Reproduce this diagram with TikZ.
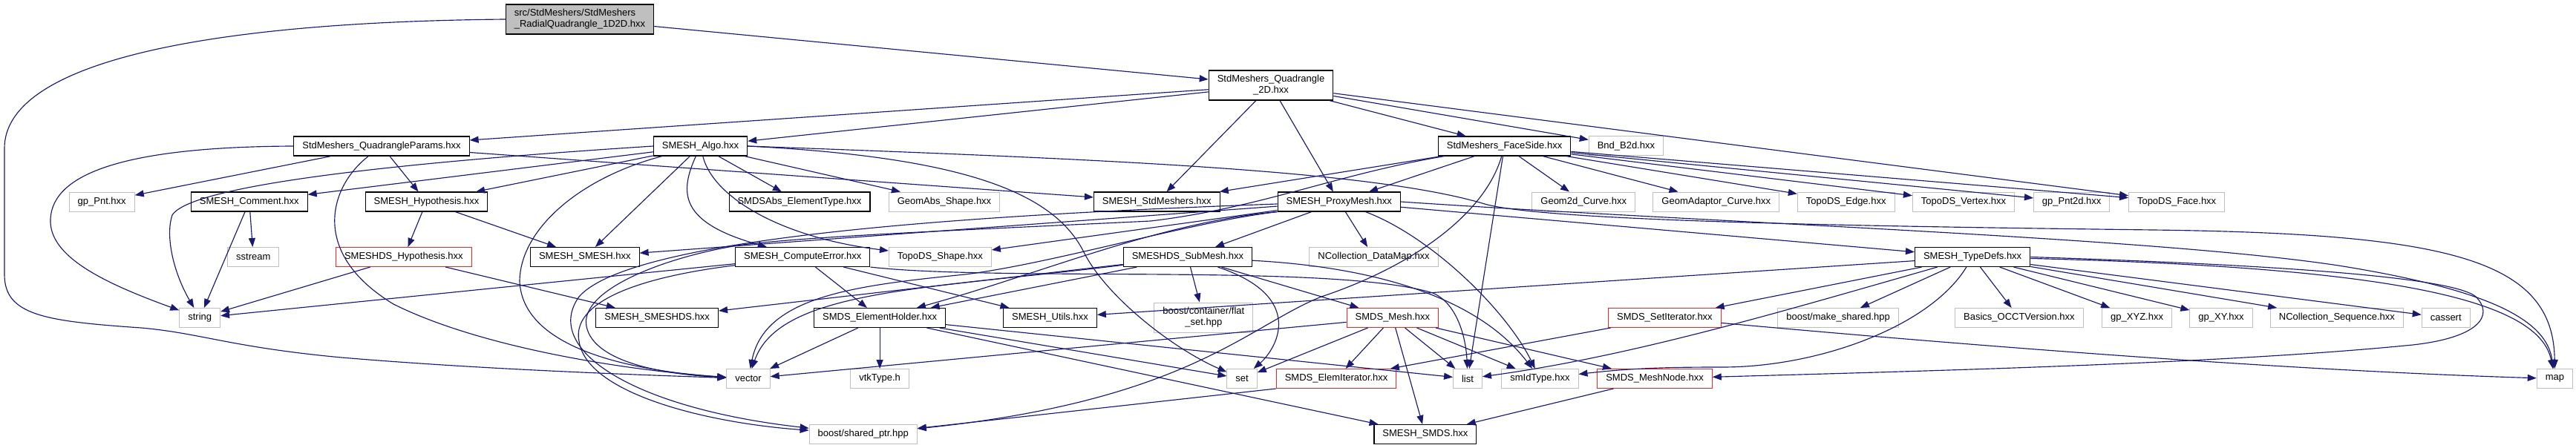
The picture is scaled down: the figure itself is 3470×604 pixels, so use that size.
\documentclass[tikz,border=0pt]{standalone}
\usepackage{fontspec}
\setmainfont{Liberation Sans}
\usepackage{tikz}
\usetikzlibrary{arrows.meta}
\definecolor{edgeblue}{HTML}{191970}
\definecolor{sysgray}{HTML}{BFBFBF}
\definecolor{truncred}{HTML}{FF2020}
\tikzstyle{filebox} = [draw=black, line width=1.1pt, fill=white, rectangle,
    inner xsep=11.5pt, inner ysep=0pt, minimum height=26pt,
    font=\fontsize{13}{15}\selectfont]
\tikzstyle{sysbox} = [filebox, draw=sysgray, line width=1pt]
\tikzstyle{truncbox} = [filebox, draw=truncred, line width=1pt]
\tikzstyle{rootbox} = [filebox, fill=sysgray, minimum height=40pt, align=left]
\tikzstyle{inc} = [draw=edgeblue, line width=1.15pt, -{Triangle[length=12pt,width=9pt]}]

\begin{document}
\begin{tikzpicture}[x=1pt,y=-1pt]
	\useasboundingbox (0,0) rectangle (3470,604);

	% row 0 and 1
	\node [rootbox] at (781,26) (root) {src/StdMeshers/StdMeshers\\\_RadialQuadrangle\_1D2D.hxx};
	\node [filebox, align=center, minimum height=40pt] at (1712,115) (quad2d) {StdMeshers\_Quadrangle\\\_2D.hxx};

	% row 2
	\node [filebox] at (514,197) (qparams) {StdMeshers\_QuadrangleParams.hxx};
	\node [filebox] at (943.5,197) (algo) {SMESH\_Algo.hxx};
	\node [filebox] at (2026.6,197) (faceside) {StdMeshers\_FaceSide.hxx};
	\node [sysbox] at (2190.4,197) (bnd) {Bnd\_B2d.hxx};

	% row 3
	\node [sysbox] at (137.2,272) (gppnt) {gp\_Pnt.hxx};
	\node [filebox] at (335.8,272) (comment) {SMESH\_Comment.hxx};
	\node [filebox] at (574.5,272) (hyp) {SMESH\_Hypothesis.hxx};
	\node [filebox] at (1077,272) (smdsabs) {SMDSAbs\_ElementType.hxx};
	\node [sysbox] at (1272,272) (geomabs) {GeomAbs\_Shape.hxx};
	\node [filebox] at (1558.3,272) (stdm) {SMESH\_StdMeshers.hxx};
	\node [filebox] at (1803.8,272) (proxy) {SMESH\_ProxyMesh.hxx};
	\node [sysbox] at (2133.2,272) (geom2d) {Geom2d\_Curve.hxx};
	\node [sysbox] at (2311.8,272) (geomadapt) {GeomAdaptor\_Curve.hxx};
	\node [sysbox] at (2486.7,272) (topoedge) {TopoDS\_Edge.hxx};
	\node [sysbox] at (2645,272) (topovertex) {TopoDS\_Vertex.hxx};
	\node [sysbox] at (2790.7,272) (gppnt2d) {gp\_Pnt2d.hxx};
	\node [sysbox] at (2932.1,272) (topoface) {TopoDS\_Face.hxx};

	% row 4
	\node [sysbox] at (341.3,346.5) (sstream) {sstream};
	\node [truncbox] at (543.9,346.5) (dshyp) {SMESHDS\_Hypothesis.hxx};
	\node [filebox] at (787.8,346.5) (smesh) {SMESH\_SMESH.hxx};
	\node [filebox] at (1081.3,346.5) (compute) {SMESH\_ComputeError.hxx};
	\node [sysbox] at (1266.4,346.5) (toposhape) {TopoDS\_Shape.hxx};
	\node [filebox] at (1599.9,346.5) (submesh) {SMESHDS\_SubMesh.hxx};
	\node [sysbox] at (1850.6,346.5) (datamap) {NCollection\_DataMap.hxx};
	\node [filebox] at (2657.1,346.5) (typedefs) {SMESH\_TypeDefs.hxx};

	% row 5
	\node [sysbox] at (269.2,428.5) (string) {string};
	\node [filebox] at (885.2,428.5) (smeshds) {SMESH\_SMESHDS.hxx};
	\node [filebox] at (1185.1,428.5) (holder) {SMDS\_ElementHolder.hxx};
	\node [filebox] at (1414.5,428.5) (utils) {SMESH\_Utils.hxx};
	\node [sysbox, align=center, minimum height=40pt] at (1621.3,428) (flatset) {boost/container/flat\\\_set.hpp};
	\node [truncbox] at (1875.9,428.5) (smdsmesh) {SMDS\_Mesh.hxx};
	\node [truncbox] at (2242.4,428.5) (setiter) {SMDS\_SetIterator.hxx};
	\node [sysbox] at (2476.1,428.5) (makeshared) {boost/make\_shared.hpp};
	\node [sysbox] at (2719.9,428.5) (occt) {Basics\_OCCTVersion.hxx};
	\node [sysbox] at (2878.6,428.5) (gpxyz) {gp\_XYZ.hxx};
	\node [sysbox] at (2992,428.5) (gpxy) {gp\_XY.hxx};
	\node [sysbox] at (3147.9,428.5) (nseq) {NCollection\_Sequence.hxx};
	\node [sysbox] at (3294.7,428.5) (cassert) {cassert};

	% row 6 and 7
	\node [sysbox] at (1008,510.5) (vector) {vector};
	\node [sysbox] at (1185.1,510.5) (vtktype) {vtkType.h};
	\node [sysbox] at (1673.1,510.5) (set) {set};
	\node [truncbox] at (1800.1,510.5) (elemiter) {SMDS\_ElemIterator.hxx};
	\node [sysbox] at (1977,510.5) (list) {list};
	\node [sysbox] at (2074.4,510.5) (smid) {smIdType.hxx};
	\node [truncbox] at (2229,510.5) (meshnode) {SMDS\_MeshNode.hxx};
	\node [sysbox] at (3441.4,510.5) (map) {map};
	\node [sysbox] at (1162.7,585.5) (sharedptr) {boost/shared\_ptr.hpp};
	\node [filebox] at (1919.9,585.5) (smds) {SMESH\_SMDS.hxx};

	% root
	\draw[inc] (root) -- (quad2d);
	\draw[inc] (root.west) .. controls (250,30) and (6,90) .. (6,200) -- (6,370)
		.. controls (6,425) and (60,433) .. (190,442) .. controls (270,449) and (310,468) .. (460,482)
		.. controls (650,498) and (850,505) .. (vector);

	% quadrangle 2D
	\draw[inc] (quad2d) -- (qparams);
	\draw[inc] (quad2d) -- (algo);
	\draw[inc] (quad2d) -- (stdm);
	\draw[inc] (quad2d) -- (proxy);
	\draw[inc] (quad2d) -- (faceside);
	\draw[inc] (quad2d) -- (bnd);
	\draw[inc] (quad2d) -- (topoface);

	% quadrangle params
	\draw[inc] (qparams.west) .. controls (150,198) and (66,240) .. (68,300) .. controls (70,350) and (150,385) .. (string);
	\draw[inc] (qparams) -- (gppnt);
	\draw[inc] (qparams) .. controls (445,250) and (415,340) .. (530,410) .. controls (650,470) and (850,500) .. (vector);
	\draw[inc] (qparams) -- (hyp);
	\draw[inc] (qparams) -- (stdm);

	% algo
	\draw[inc] (algo) -- (comment);
	\draw[inc] (algo) -- (hyp);
	\draw[inc] (algo.west) .. controls (600,215) and (260,245) .. (232,290) .. controls (222,320) and (235,370) .. (string);
	\draw[inc] (algo) .. controls (780,240) and (700,310) .. (700,380) .. controls (705,470) and (850,500) .. (vector);
	\draw[inc] (algo) -- (smesh);
	\draw[inc] (algo) .. controls (915,260) and (915,300) .. (compute);
	\draw[inc] (algo) -- (smdsabs);
	\draw[inc] (algo) -- (geomabs);
	\draw[inc] (algo) .. controls (960,265) and (1050,320) .. (toposhape);
	\draw[inc] (algo.east) .. controls (1300,212) and (1420,260) .. (1460,340) .. controls (1490,400) and (1580,470) .. (set);
	\draw[inc] (algo.east) .. controls (1500,215) and (1850,230) .. (2000,275) .. controls (2080,298) and (2500,305) .. (2900,310)
		.. controls (3300,315) and (3440,350) .. (map);

	% face side
	\draw[inc] (faceside) -- (stdm);
	\draw[inc] (faceside) -- (proxy);
	\draw[inc] (faceside) -- (geom2d);
	\draw[inc] (faceside) -- (geomadapt);
	\draw[inc] (faceside) -- (topoedge);
	\draw[inc] (faceside) -- (topovertex);
	\draw[inc] (faceside) -- (gppnt2d);
	\draw[inc] (faceside) -- (topoface);
	\draw[inc] (faceside) -- (list);
	\draw[inc] (faceside) .. controls (2000,290) and (1900,360) .. (1780,400) .. controls (1680,440) and (1600,540) .. (sharedptr);
	\draw[inc] (faceside) .. controls (1800,235) and (1700,280) .. (1550,298) .. controls (1300,310) and (1100,318) .. (1000,330)
		.. controls (900,345) and (780,390) .. (790,440) .. controls (800,490) and (900,505) .. (vector);

	% comment, hypothesis
	\draw[inc] (comment) -- (string);
	\draw[inc] (comment) -- (sstream);
	\draw[inc] (hyp) -- (dshyp);
	\draw[inc] (hyp) -- (smesh);
	\draw[inc] (dshyp) -- (string);
	\draw[inc] (dshyp) -- (smeshds);

	% proxy mesh
	\draw[inc] (proxy) -- (smesh);
	\draw[inc] (proxy) -- (toposhape);
	\draw[inc] (proxy) -- (submesh);
	\draw[inc] (proxy) -- (datamap);
	\draw[inc] (proxy) -- (typedefs);
	\draw[inc] (proxy) .. controls (1930,320) and (2030,420) .. (smid);
	\draw[inc] (proxy.south west) .. controls (1560,300) and (1400,370) .. (holder);
	\draw[inc] (proxy.south west) .. controls (1600,300) and (1420,355) .. (1300,370) .. controls (1150,385) and (1030,400) .. (vector);
	\draw[inc] (proxy) .. controls (1300,290) and (850,320) .. (780,400) .. controls (730,470) and (850,550) .. (sharedptr);
	\draw[inc] (proxy.east) .. controls (2300,300) and (2900,320) .. (3150,358) .. controls (3350,390) and (3430,430) .. (map);

	% compute error
	\draw[inc] (compute) -- (string);
	\draw[inc] (compute) -- (holder);
	\draw[inc] (compute) -- (utils);
	\draw[inc] (compute.south east) .. controls (1350,380) and (1800,355) .. (1930,395) .. controls (1965,410) and (1975,460) .. (list);
	\draw[inc] (compute) .. controls (850,375) and (770,410) .. (780,460) .. controls (790,530) and (950,570) .. (sharedptr);

	% submesh
	\draw[inc] (submesh) -- (smeshds);
	\draw[inc] (submesh) -- (holder);
	\draw[inc] (submesh) -- (flatset);
	\draw[inc] (submesh) -- (smdsmesh);
	\draw[inc] (submesh) .. controls (1250,390) and (1050,390) .. (vector);
	\draw[inc] (submesh) .. controls (1760,400) and (1720,470) .. (set);
	\draw[inc] (submesh) .. controls (1850,360) and (1990,400) .. (smid);

	% type defs
	\draw[inc] (typedefs) -- (utils);
	\draw[inc] (typedefs) -- (setiter);
	\draw[inc] (typedefs) .. controls (2400,420) and (2200,480) .. (list);
	\draw[inc] (typedefs) .. controls (2600,440) and (2450,495) .. (2320,495) .. controls (2250,495) and (2200,496) .. (smid);
	\draw[inc] (typedefs.east) .. controls (3000,355) and (3300,370) .. (3335,400) .. controls (3360,425) and (3340,455) .. (3250,465)
		.. controls (3000,490) and (2600,500) .. (meshnode);
	\draw[inc] (typedefs) -- (makeshared);
	\draw[inc] (typedefs) -- (occt);
	\draw[inc] (typedefs) -- (gpxyz);
	\draw[inc] (typedefs) -- (gpxy);
	\draw[inc] (typedefs) -- (nseq);
	\draw[inc] (typedefs) -- (cassert);
	\draw[inc] (typedefs) .. controls (3200,360) and (3420,400) .. (map);

	% element holder
	\draw[inc] (holder) -- (vector);
	\draw[inc] (holder) -- (vtktype);
	\draw[inc] (holder) -- (set);
	\draw[inc] (holder) -- (smds);
	\draw[inc] (holder) -- (list);

	% smds mesh
	\draw[inc] (smdsmesh) -- (elemiter);
	\draw[inc] (smdsmesh) -- (list);
	\draw[inc] (smdsmesh) -- (smid);
	\draw[inc] (smdsmesh) -- (meshnode);
	\draw[inc] (smdsmesh) -- (smds);
	\draw[inc] (smdsmesh) -- (set);
	\draw[inc] (smdsmesh) -- (vector);

	% iterators, nodes
	\draw[inc] (setiter) -- (elemiter);
	\draw[inc] (setiter) .. controls (2700,470) and (3100,500) .. (map);
	\draw[inc] (meshnode) -- (smds);
	\draw[inc] (elemiter.south west) -- (sharedptr);
\end{tikzpicture}
\end{document}
